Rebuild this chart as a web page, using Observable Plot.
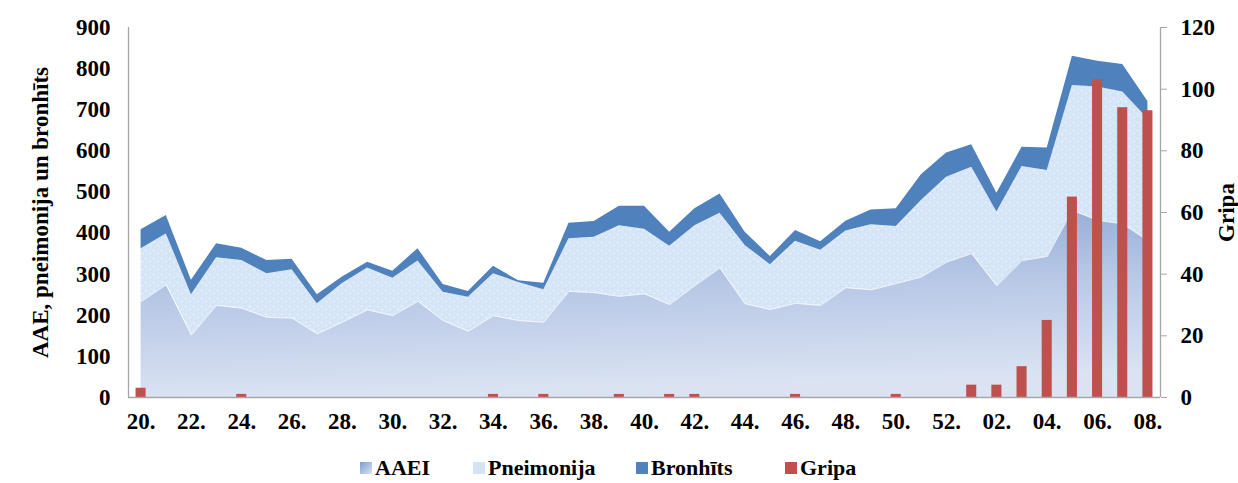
<!DOCTYPE html>
<html>
<head>
<meta charset="utf-8">
<script src="https://cdn.jsdelivr.net/npm/d3@7"></script>
<script src="https://cdn.jsdelivr.net/npm/@observablehq/plot@0.6"></script>
<style>
  html, body { margin: 0; padding: 0; background: #fff; }
  #wrap { position: relative; width: 1238px; height: 483px; overflow: hidden; font-family: "Liberation Serif", "Times New Roman", serif; }
  #legend { position: absolute; top: 455px; left: 0; width: 1238px; height: 28px; font-weight: bold; font-size: 22px; line-height: 26px; }
  .li { position: absolute; top: 0; display: flex; align-items: center; white-space: nowrap; }
  .sw { width: 12px; height: 12px; margin-right: 3px; }
</style>
</head>
<body>
<div id="wrap"><div id="chart"></div><div id="legend"></div></div>
<script>
const weeks = ["20.","21.","22.","23.","24.","25.","26.","27.","28.","29.","30.","31.","32.","33.","34.","35.","36.","37.","38.","39.","40.","41.","42.","43.","44.","45.","46.","47.","48.","49.","50.","51.","52.","01.","02.","03.","04.","05.","06.","07.","08."];
const aaei = [233,274,152,224,217,195,193,155,183,213,199,234,187,161,199,187,183,258,255,246,252,226,272,315,228,214,229,224,267,262,277,293,329,350,272,333,343,455,431,422,382];
const pneimonija = [129,124,98,116,116,106,118,73,94,102,91,98,69,83,102,93,79,128,135,172,157,142,146,133,142,109,151,134,138,158,139,186,207,210,179,229,209,304,324,321,296];
const bronhits = [46,45,35,34,30,32,25,22,16,14,17,30,19,14,18,4,16,38,38,47,56,34,41,47,32,20,26,21,24,36,43,63,59,55,46,47,55,71,63,67,42];
const gripa = [3,0,0,0,1,0,0,0,0,0,0,0,0,0,1,0,1,0,0,1,0,1,1,0,0,0,1,0,0,0,1,0,0,4,4,10,25,65,103,94,93];
const seriesNames = ["AAEI","Pneimonija","Bronhīts","Gripa"];
const leftTicks = [0,100,200,300,400,500,600,700,800,900];
const rightTicks = [0,20,40,60,80,100,120];
const leftTitle = "AAE, pneimonija un bronhīts";
const rightTitle = "Gripa";

const ratio = 900 / 120;
const rows = [];
[aaei, pneimonija, bronhits].forEach((arr, s) => arr.forEach((v, i) => rows.push({i, series: seriesNames[s], value: v})));
const bars = gripa.map((v, i) => ({i, v})).filter(d => d.v > 0);

const fillMap = ["url(#gAAEI)", "url(#pPne)", "#4f81bd"];
const font = {fontFamily: "Liberation Serif, Times New Roman, serif", fontWeight: "bold", fontSize: "23px"};

const chart = Plot.plot({
  width: 1238,
  height: 455,
  marginLeft: 128,
  marginRight: 78,
  marginTop: 27,
  marginBottom: 58,
  style: {background: "white", color: "black", overflow: "visible", ...font},
  x: {type: "linear", domain: [-0.5, weeks.length - 0.5], axis: null},
  y: {domain: [0, 900], axis: null},
  color: {type: "ordinal", domain: seriesNames.slice(0, 3), range: fillMap},
  marks: [
    Plot.areaY(rows, {x: "i", y: "value", fill: "series"}),
    Plot.lineY(aaei.map((v, i) => ({i, v})), {x: "i", y: "v", stroke: "white", strokeWidth: 1, strokeOpacity: 0.8}),
    Plot.rectY(bars, {x1: d => d.i - 0.2, x2: d => d.i + 0.2, y1: 0, y2: d => d.v * ratio, fill: "#c0504d"}),
    Plot.ruleX([-0.5], {stroke: "#a6a6a6", strokeWidth: 1.3}),
    Plot.ruleX([weeks.length - 0.5], {stroke: "#a6a6a6", strokeWidth: 1.3}),
    Plot.ruleY([0], {stroke: "#a6a6a6", strokeWidth: 1.3}),
    Plot.axisY(leftTicks, {anchor: "left", tickSize: 0, tickPadding: 18, label: null, fill: "black"}),
    Plot.axisY(rightTicks.map(v => v * ratio), {anchor: "right", tickSize: 6, tickPadding: 14, stroke: "#a6a6a6", fill: "black", label: null, tickFormat: v => String(Math.round(v / ratio))}),
    Plot.axisX(d3.range(0, weeks.length, 2), {anchor: "bottom", tickSize: 0, tickPadding: 15, label: null, tickFormat: i => weeks[i], fill: "black"}),
    Plot.text([leftTitle], {frameAnchor: "left", textAnchor: "middle", dx: -88, rotate: -90, fontSize: 23, fontWeight: "bold", fill: "black"}),
    Plot.text([rightTitle], {frameAnchor: "right", textAnchor: "middle", dx: 66, rotate: -90, fontSize: 23, fontWeight: "bold", fill: "black"})
  ]
});

const defs = d3.select(chart).insert("defs", ":first-child");
const g = defs.append("linearGradient").attr("id", "gAAEI").attr("x1", 0).attr("y1", 0).attr("x2", 0.15).attr("y2", 1);
g.append("stop").attr("offset", "0%").attr("stop-color", "#8aa5d3");
g.append("stop").attr("offset", "45%").attr("stop-color", "#b5c6e5");
g.append("stop").attr("offset", "100%").attr("stop-color", "#dbe3f3");
const p = defs.append("pattern").attr("id", "pPne").attr("patternUnits", "userSpaceOnUse").attr("width", 8).attr("height", 8);
p.append("rect").attr("width", 8).attr("height", 8).attr("fill", "#d7e6f6");
p.append("rect").attr("x", 1).attr("y", 2).attr("width", 2).attr("height", 1).attr("fill", "#edf3fb");
p.append("rect").attr("x", 5).attr("y", 5).attr("width", 2).attr("height", 1).attr("fill", "#edf3fb");
p.append("rect").attr("x", 4).attr("y", 0).attr("width", 1).attr("height", 1).attr("fill", "#c6daf0");
p.append("rect").attr("x", 0).attr("y", 6).attr("width", 1).attr("height", 1).attr("fill", "#c6daf0");

document.getElementById("chart").appendChild(chart);

const legendItems = [
  {name: seriesNames[0], bg: "linear-gradient(135deg, #7d9bd0, #dbe3f3)", left: 360},
  {name: seriesNames[1], bg: "#d5e4f5", left: 473},
  {name: seriesNames[2], bg: "#4f81bd", left: 636},
  {name: seriesNames[3], bg: "#c0504d", left: 785}
];
const leg = document.getElementById("legend");
legendItems.forEach(it => {
  const d = document.createElement("div");
  d.className = "li";
  d.style.left = it.left + "px";
  const s = document.createElement("div");
  s.className = "sw";
  s.style.background = it.bg;
  d.appendChild(s);
  const t = document.createElement("span");
  t.textContent = it.name;
  d.appendChild(t);
  leg.appendChild(d);
});
</script>
</body>
</html>
